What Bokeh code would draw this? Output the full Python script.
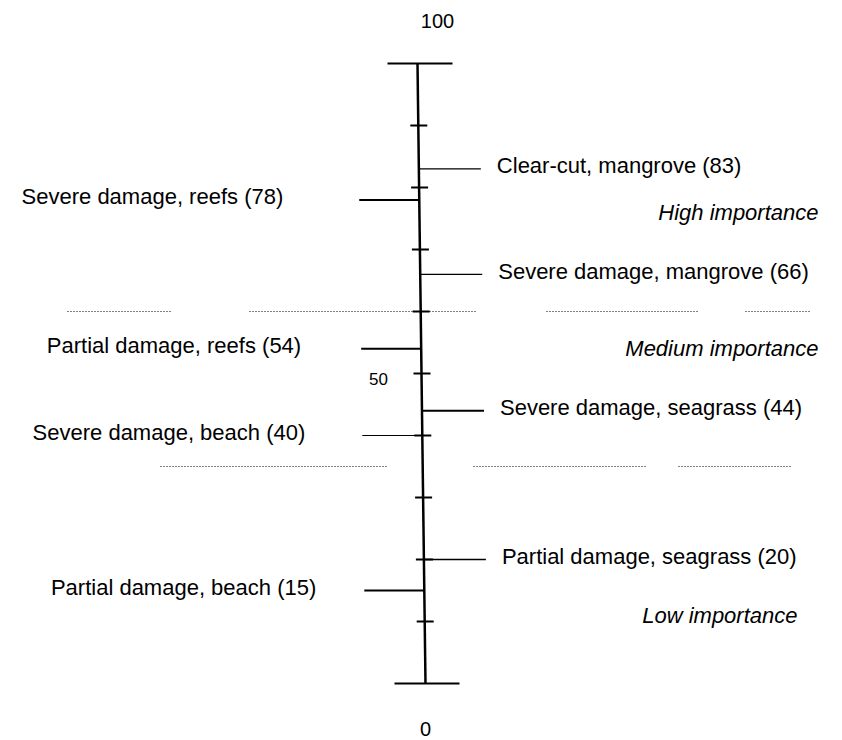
from bokeh.plotting import figure
from bokeh.models import Range1d, ColumnDataSource
from bokeh.embed import file_html
from bokeh.resources import INLINE
from bokeh.core.properties import value

# ---- data ----
labels = ["Clear-cut, mangrove (83)", "Severe damage, reefs (78)", "Severe damage, mangrove (66)",
          "Partial damage, reefs (54)", "Severe damage, seagrass (44)", "Severe damage, beach (40)",
          "Partial damage, seagrass (20)", "Partial damage, beach (15)"]
values = [83, 78, 66, 54, 44, 40, 20, 15]
sides = ["right", "left", "right", "left", "right", "left", "right", "left"]
tick_values = [0, 10, 20, 30, 40, 50, 60, 70, 80, 90, 100]
zones = ["High importance", "Medium importance", "Low importance"]
zone_mid = [76, 54, 11]
boundaries = [60, 35]

FONT = "Liberation Sans"
W, H = 834, 738
# plot coordinates: x in page pixels, y in scale units
PX = 6.2  # pixels per unit
y_top = 683 / PX
y_bot = (683 - H) / PX

p = figure(width=W, height=H, output_backend="svg", toolbar_location=None,
           x_range=Range1d(0, W), y_range=Range1d(y_bot, y_top),
           min_border=0, outline_line_color=None)
p.axis.visible = False
p.grid.visible = False
p.background_fill_color = "white"

def ax_x(v):
    return 425 - 0.08 * v

# main axis
p.segment(x0=[ax_x(0)], y0=[0], x1=[ax_x(100)], y1=[100], line_color="black", line_width=2.5)
# end caps
p.segment(x0=[ax_x(100) - 30, ax_x(0) - 31], y0=[100, 0], x1=[ax_x(100) + 35, ax_x(0) + 34], y1=[100, 0],
          line_color="black", line_width=2)
# ticks
inner = [t for t in tick_values if 0 < t < 100]
p.segment(x0=[ax_x(t) - 8 for t in inner], y0=inner, x1=[ax_x(t) + 9 for t in inner], y1=inner,
          line_color="black", line_width=2)

# item lines and labels
L = 60
lx0, lx1, tx, ty, ta = [], [], [], [], []
left_gap = [0, 76, 0, 60, 0, 57, 0, 48]
for i, (v, s) in enumerate(zip(values, sides)):
    a = ax_x(v)
    if s == "right":
        lx0.append(a); lx1.append(a + L + 2)
        tx.append(a + L + 18); ta.append("left")
    else:
        lx0.append(a - L); lx1.append(a)
        tx.append(a - L - left_gap[i]); ta.append("right")
    ty.append(v + 3 / PX)
widths = [1.2, 2, 1.2, 2, 2, 1.2, 1.5, 2]
p.segment(x0=lx0, y0=values, x1=lx1, y1=values, line_color="black", line_width=widths)
src = ColumnDataSource(dict(x=tx, y=ty, t=labels, a=ta))
p.text(x="x", y="y", text="t", text_align="a", source=src, text_baseline="middle",
       text_font=value(FONT), text_font_size="22px", text_color="black")

# zone boundaries (dotted)
seg_x = [[(67, 171), (249, 477), (546, 697), (745, 810)],
         [(160, 388), (473, 645), (678, 790)]]
bx0, bx1, by = [], [], []
for b, segs in zip(boundaries, seg_x):
    for a0, a1 in segs:
        bx0.append(a0); bx1.append(a1); by.append(b)
p.segment(x0=bx0, y0=by, x1=bx1, y1=by, line_color="black", line_width=1, line_dash="1 2")

# zone labels
p.text(x=[818, 818, 797], y=zone_mid, text=zones, text_align="right",
       text_baseline="middle", text_font=value(FONT), text_font_style="italic",
       text_font_size="22px", text_color="black")

# scale labels
p.text(x=[437, 425], y=[100 + 43 / PX, -45 / PX], text=["100", "0"], text_align="center",
       text_baseline="middle", text_font=value(FONT), text_font_size="20px", text_color="black")
p.text(x=[378], y=[50 - 5 / PX], text=["50"], text_align="center", text_baseline="middle",
       text_font=value(FONT), text_font_size="17px", text_color="black")

open("out.html", "w").write(file_html(p, INLINE))
